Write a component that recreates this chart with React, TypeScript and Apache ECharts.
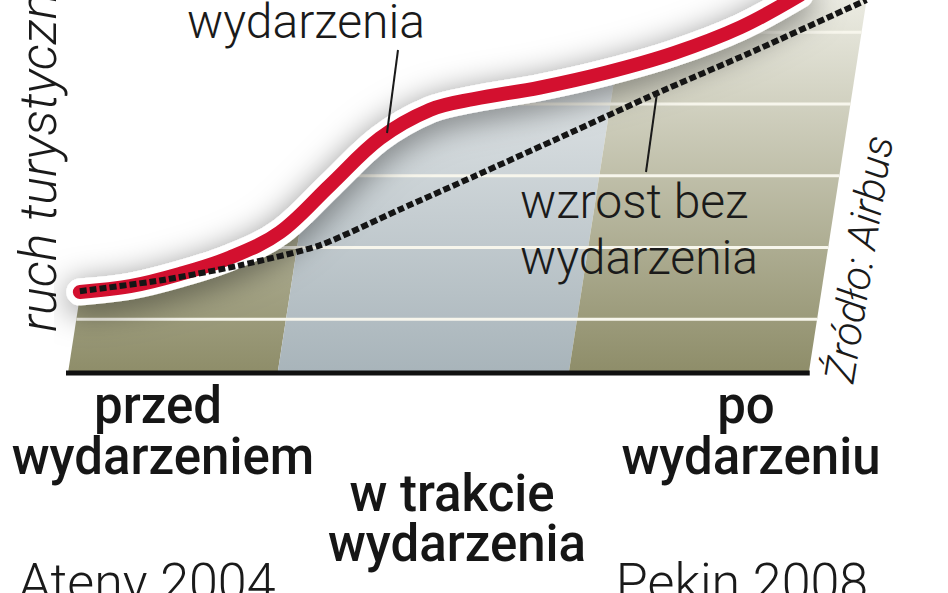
import React, { useEffect, useRef } from "react";
import * as echarts from "echarts";

// phases of the event (x in % of the time axis)
const phaseStart = [0, 28.3, 67.6];
const phaseEnd = [28.3, 67.6, 100];

// horizontal guide levels
const gridLevels = [1, 2, 3, 4, 5];

// tourist traffic with the event
const withEventX = [1.6, 8.4, 15.1, 21.9, 28.6, 35.4, 42.1, 48.9, 54.8, 63.7, 72.7, 81.8, 90.8, 98.8];
const withEventY = [1.38, 1.46, 1.63, 1.86, 2.21, 2.87, 3.52, 3.92, 4.07, 4.23, 4.44, 4.71, 5.07, 5.52];

// growth without the event
const noEventX = [1.6, 12.4, 23.2, 34.0, 44.8, 54.8, 67.0, 79.5, 92.0, 107.8];
const noEventY = [1.39, 1.54, 1.75, 2.03, 2.53, 2.99, 3.56, 4.15, 4.71, 5.45];

const X_END = 100; // end of the time axis
const Y_MIN = 0.25;
const Y_MAX = 5.45;
const SKEW = 0.155; // the whole panel leans to the right

const phaseColors = [
  ["#ebebe2", "#8e8d69"],
  ["#edf0f1", "#a8b4ba"],
  ["#ebebe2", "#8e8d69"],
];

const light = { fontFamily: "Roboto", fontWeight: 300, fill: "#1a1a1a" };
const bold = { fontFamily: "Roboto", fontWeight: 500, fill: "#161616", fontSize: 51 };

function label(text: string, x: number, y: number, style: any, align = "center") {
  return {
    type: "text",
    x,
    y,
    z: 100,
    style: { text, align, textAlign: align, verticalAlign: "middle", textVerticalAlign: "middle", ...style },
  };
}

const App: React.FC = () => {
  const chartRef = useRef<HTMLDivElement>(null);

  useEffect(() => {
    if (!chartRef.current) return;
    const chart = echarts.init(chartRef.current, undefined, { renderer: "svg" });

    const withEvent = withEventX.map((x, i) => [x, withEventY[i]]);
    const noEvent = noEventX.map((x, i) => [x, noEventY[i]]);
    const curve = { data: withEvent, smooth: 0.35, symbol: "none", silent: true };

    chart.setOption({
      animation: false,
      // x scale: 7.41 px per unit, panel 0..100 spans 68..809 px
      grid: { left: 68, right: 80, top: 0, bottom: 220 },
      xAxis: {
        type: "value",
        min: 0,
        max: 108,
        show: false,
      },
      yAxis: { type: "value", min: Y_MIN, max: Y_MAX, show: false },
      series: [
        {
          type: "custom",
          z: 1,
          silent: true,
          data: phaseStart.map((s, i) => [s, phaseEnd[i]]),
          renderItem: (params: any, api: any) => {
            const b0 = api.coord([api.value(0), Y_MIN]);
            const b1 = api.coord([api.value(1), Y_MIN]);
            const top = api.coord([api.value(0), Y_MAX])[1];
            const dx = (b0[1] - top) * SKEW;
            const c = phaseColors[params.dataIndex];
            return {
              type: "polygon",
              shape: { points: [[b0[0], b0[1]], [b1[0], b1[1]], [b1[0] + dx, top], [b0[0] + dx, top]] },
              style: {
                fill: new echarts.graphic.LinearGradient(0, 0, 0, 1, [
                  { offset: 0, color: c[0] },
                  { offset: 1, color: c[1] },
                ]),
              },
            };
          },
        },
        {
          type: "custom",
          z: 2,
          silent: true,
          data: gridLevels.map((v) => [v, v]),
          renderItem: (params: any, api: any) => {
            const v = api.value(0);
            const l = api.coord([0, v]);
            const r = api.coord([X_END, v]);
            const bottom = api.coord([0, Y_MIN])[1];
            const dx = (bottom - l[1]) * SKEW;
            return {
              type: "line",
              shape: { x1: l[0] + dx, y1: l[1], x2: r[0] + dx, y2: r[1] },
              style: { stroke: "#f7f6ec", lineWidth: 3 },
            };
          },
        },
        {
          // white sky above the curve
          type: "line",
          z: 3,
          ...curve,
          lineStyle: { width: 0 },
          areaStyle: { color: "#ffffff", opacity: 1, origin: "end" },
        },
        {
          type: "line",
          z: 4,
          ...curve,
          clip: false,
          lineStyle: {
            color: "#ffffff",
            width: 27,
            cap: "round",
            shadowColor: "rgba(0,0,0,0.5)",
            shadowBlur: 32,
            shadowOffsetY: 6,
          },
        },
        {
          name: "z wydarzeniem",
          type: "line",
          z: 5,
          ...curve,
          clip: false,
          lineStyle: { color: "#d3102f", width: 14, cap: "round" },
        },
        {
          name: "wzrost bez wydarzenia",
          type: "line",
          z: 6,
          silent: true,
          data: noEvent,
          smooth: 0.2,
          symbol: "none",
          clip: false,
          lineStyle: { color: "#151515", width: 6, type: [7, 3] },
        },
        {
          // baseline of the time axis
          type: "custom",
          z: 7,
          silent: true,
          data: [[0, X_END]],
          renderItem: (params: any, api: any) => {
            const a = api.coord([api.value(0), Y_MIN]);
            const b = api.coord([api.value(1), Y_MIN]);
            return {
              type: "line",
              shape: { x1: a[0] - 2, y1: a[1], x2: b[0] + 1, y2: b[1] },
              style: { stroke: "#111", lineWidth: 5 },
            };
          },
        },
      ],
      graphic: [
        label("wydarzenia", 306, 21, { ...light, fontSize: 48 }),
        { type: "line", z: 100, shape: { x1: 398, y1: 50, x2: 387, y2: 133 }, style: { stroke: "#1a1a1a", lineWidth: 2 } },
        label("wzrost bez", 520, 201, { ...light, fontSize: 48 }, "left"),
        label("wydarzenia", 520, 257, { ...light, fontSize: 48 }, "left"),
        { type: "line", z: 100, shape: { x1: 657, y1: 93, x2: 646, y2: 172 }, style: { stroke: "#1a1a1a", lineWidth: 2 } },
        {
          type: "text",
          x: 38,
          y: 332,
          rotation: Math.PI / 2,
          z: 100,
          style: {
            text: "ruch turystyczny",
            ...light,
            fontSize: 52,
            fontStyle: "italic",
            align: "left",
            textAlign: "left",
            verticalAlign: "middle",
            textVerticalAlign: "middle",
          },
        },
        {
          type: "text",
          x: 839,
          y: 382,
          rotation: 1.41,
          z: 100,
          style: {
            text: "Źródło: Airbus",
            ...light,
            fontSize: 42,
            fontStyle: "italic",
            align: "left",
            textAlign: "left",
            verticalAlign: "middle",
            textVerticalAlign: "middle",
          },
        },
        label("przed", 158, 405, bold),
        label("wydarzeniem", 163, 456, bold),
        label("w trakcie", 452, 493, bold),
        label("wydarzenia", 457, 543, bold),
        label("po", 746, 405, bold),
        label("wydarzeniu", 751, 456, bold),
        label("Ateny 2004", 147, 582, { ...light, fontSize: 52 }),
        label("Pekin 2008", 742, 582, { ...light, fontSize: 52 }),
      ],
    });

    return () => chart.dispose();
  }, []);

  return (
    <div
      ref={chartRef}
      style={{ position: "absolute", left: 0, top: 0, width: "948px", height: "593px", background: "#fff" }}
    />
  );
};

export default App;
